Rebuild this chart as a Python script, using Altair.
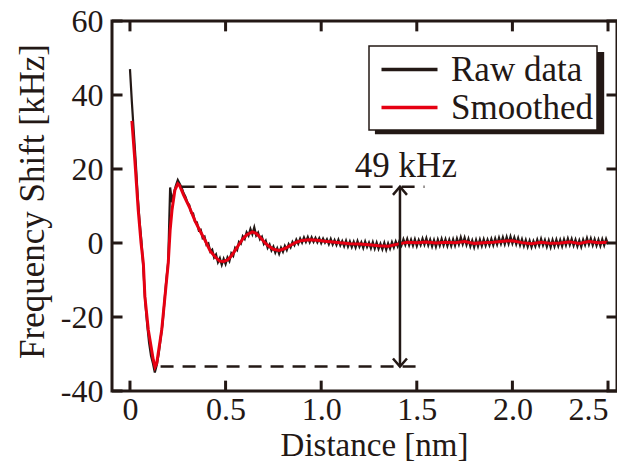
import altair as alt
import numpy as np
import pandas as pd

# ---------------- data ----------------
# Raw data: one value every 0.01 nm from 0.00 to 2.50 nm
raw_y = [
    47, 38, 30, 22, 13, 6, 0.5, -7, -16, -22,
    -27, -30.5, -32.5, -35, -33, -30, -26, -22, -16, -10,
    -5, 15, 11, 13.5, 15.5, 17, 16, 15, 13.5, 12.5,
    11, 10.3, 8.2, 8, 5.8, 5.6, 3.4, 3.6, 1.3, 1.7,
    -0.5, -0.1, -2.3, -1.8, -3.9, -3.1, -5.2, -4.1, -5.9, -4.3,
    -5.7, -3.9, -4.9, -2.8, -3.5, -1.3, -1.9, 0.3, -0.2, 1.8,
    1.1, 2.9, 2.0, 3.8, 2.4, 4.2, 2.0, 2.8, 1.0, 1.7,
    -0.2, 0.6, -1.3, -0.4, -2.0, -1.0, -2.6, -1.4, -2.9, -1.3,
    -2.4, -0.8, -1.9, -0.3, -1.2, 0.3, -0.6, 0.9, -0.2, 1.2,
    0.1, 1.5, 0.3, 1.6, 0.2, 1.5, 0.3, 1.4, 0.2, 1.3,
    0.0, 1.2, 0.1, 1.0, -0.3, 1.1, -0.4, 0.8, -0.5, 0.9,
    -0.6, 0.5, -0.9, 0.6, -1.0, 0.4, -1.1, 0.3, -1.2, 0.5,
    -1.0, 0.2, -1.3, 0.4, -1.1, 0.1, -1.4, 0.2, -1.5, 0.1,
    -1.6, -0.2, -1.7, 0.0, -1.8, -0.1, -1.5, 0.2, -1.2, 0.4,
    -0.9, 0.7, -0.6, 1.0, -0.5, 1.1, -0.6, 0.9, -0.7, 1.0,
    -0.8, 0.8, -0.5, 1.2, -0.4, 1.3, -0.6, 0.9, -0.9, 0.8,
    -1.0, 0.9, -0.7, 1.1, -0.6, 1.0, -0.8, 0.9, -0.8, 1.0,
    -0.7, 1.2, -0.4, 1.5, -0.3, 1.4, -0.5, 1.1, -0.9, 0.7,
    -1.1, 0.8, -0.9, 0.9, -0.8, 1.0, -0.7, 0.9, -0.6, 1.1,
    -0.6, 1.2, -0.4, 1.4, -0.2, 1.5, -0.3, 1.6, -0.2, 1.7,
    -0.1, 1.5, -0.3, 1.3, -0.6, 1.0, -0.8, 0.8, -1.0, 0.6,
    -1.1, 0.5, -0.9, 0.9, -0.7, 1.1, -0.6, 0.8, -1.0, 0.7,
    -1.1, 0.8, -0.9, 0.9, -0.8, 0.8, -0.9, 1.0, -0.6, 1.2,
    -0.5, 1.1, -0.7, 0.9, -0.9, 0.7, -1.0, 0.9, -0.5, 1.3,
    -0.4, 1.2, -0.6, 1.0, -0.7, 0.9, -0.8, 1.0, -0.6, 1.1,
    -0.3,
]
raw_x = np.round(np.arange(len(raw_y)) * 0.01, 2)

# Smoothed curve
sm_x = [0.01, 0.026, 0.043, 0.058, 0.07, 0.078, 0.096, 0.122, 0.131, 0.14,
        0.166, 0.183, 0.20, 0.21, 0.22, 0.235, 0.25, 0.26, 0.28, 0.31,
        0.34, 0.366, 0.39, 0.42, 0.45, 0.47, 0.49, 0.51, 0.53, 0.55,
        0.57, 0.59, 0.61, 0.64, 0.66, 0.68, 0.70, 0.72, 0.75, 0.78,
        0.81, 0.84, 0.87, 0.90, 0.94, 0.98, 1.02, 1.06, 1.10, 1.15,
        1.20, 1.25, 1.30, 1.35, 1.40, 1.45, 1.50, 1.55, 1.60, 1.65,
        1.70, 1.75, 1.80, 1.85, 1.90, 1.95, 2.00, 2.05, 2.10, 2.15,
        2.20, 2.25, 2.30, 2.35, 2.40, 2.45, 2.50]
sm_y = [33, 22, 9, 0, -5.5, -14.5, -23.5, -31.6, -33.5, -32.5,
        -23.5, -14.5, -5.5, 3.5, 9, 14.3, 16, 15.5, 13, 9.8,
        6, 3.3, 1, -2.2, -4, -4.9, -5, -4.6, -3.5, -2,
        -0.4, 1.1, 2.2, 3, 2.6, 1.6, 0.4, -0.6, -1.7, -2.0,
        -1.5, -0.6, 0.2, 0.7, 0.9, 0.75, 0.5, 0.3, 0.05, -0.2,
        -0.3, -0.45, -0.75, -0.85, -0.3, 0.2, 0.1, 0.3, 0.0, 0.2,
        0.1, 0.4, -0.1, 0.1, 0.2, 0.5, 0.6, 0.1, -0.2, 0.2,
        -0.1, 0.0, 0.3, -0.1, 0.4, 0.1, 0.2]

series_names = ["Raw data", "Smoothed"]
series_colors = ["#231815", "#e60012"]

x_ticks = [0, 0.5, 1.0, 1.5, 2.0, 2.5]
y_ticks = [-40, -20, 0, 20, 40, 60]
x_domain = [-0.094, 2.547]
y_domain = [-40, 60]

# annotation values
upper_level = 15.2
lower_level = -33.4
dash_starts = [0.27, 0.16]
dash_end = 1.54
arrow_x = 1.412
label_text = "49 kHz"
label_x = 1.443
label_y = 17.8
shadow_box = [1.281, 2.48, 51.6, 29.4]  # x1, x2, y1, y2 (data units)

# ---------------- chart ----------------
INK = "#231815"
FONT = "Liberation Serif"

raw_df = pd.DataFrame({"x": raw_x, "y": raw_y, "series": series_names[0]})
sm_df = pd.DataFrame({"x": sm_x, "y": sm_y, "series": series_names[1]})

xs = alt.Scale(domain=x_domain, nice=False, zero=False)
ys = alt.Scale(domain=y_domain, nice=False, zero=False)

color = alt.Color(
    "series:N",
    scale=alt.Scale(domain=series_names, range=series_colors),
    legend=alt.Legend(title=None, orient="none", legendX=257, legendY=25, zindex=1),
)

xaxis = alt.Axis(
    values=x_ticks, title="Distance [nm]",
    labelExpr="datum.value == 0 ? '0' : format(datum.value, '.1f')",
    grid=False, ticks=False, tickSize=0, domain=False, labelPadding=3,
    labelFlush=12, titleX=262, titleY=64, titleBaseline="alphabetic",
    titleFontSize=33,
)
yaxis = alt.Axis(
    values=y_ticks, title="Frequency Shift [kHz]",
    labelExpr="'' + datum.value",
    grid=False, ticks=False, tickSize=0, domain=False, labelPadding=9,
    labelFlush=False, titleX=-69, titleY=180, titleAngle=270,
    titleBaseline="alphabetic",
)

raw_line = alt.Chart(raw_df).mark_line(strokeWidth=2.2).encode(
    x=alt.X("x:Q", scale=xs, axis=xaxis),
    y=alt.Y("y:Q", scale=ys, axis=yaxis),
    color=color,
)
sm_line = alt.Chart(sm_df).mark_line(strokeWidth=3).encode(
    x=alt.X("x:Q", scale=xs),
    y=alt.Y("y:Q", scale=ys),
    color=color,
)

shadow = alt.Chart(pd.DataFrame({"a": [0]})).mark_rect(color=INK).encode(
    x=alt.X(datum=shadow_box[0], scale=xs),
    x2=alt.X2(datum=shadow_box[1]),
    y=alt.Y(datum=shadow_box[2], scale=ys),
    y2=alt.Y2(datum=shadow_box[3]),
)

dash_df = pd.DataFrame({"x": dash_starts, "x2": [dash_end, dash_end],
                        "y": [upper_level, lower_level]})
dashes = alt.Chart(dash_df).mark_rule(
    color=INK, strokeWidth=2.5, strokeDash=[13, 9]
).encode(
    x=alt.X("x:Q", scale=xs), x2="x2:Q",
    y=alt.Y("y:Q", scale=ys),
)

arrow_df = pd.DataFrame({"x": [arrow_x], "y": [upper_level], "y2": [lower_level]})
arrow = alt.Chart(arrow_df).mark_rule(color=INK, strokeWidth=2.5).encode(
    x=alt.X("x:Q", scale=xs),
    y=alt.Y("y:Q", scale=ys), y2="y2:Q",
)
head_up = alt.Chart(pd.DataFrame({"x": [arrow_x], "y": [upper_level]})).mark_point(
    shape="M-1,1.15L0,0L1,1.15", filled=False, size=196, stroke=INK,
    strokeWidth=2.5, opacity=1,
).encode(x=alt.X("x:Q", scale=xs), y=alt.Y("y:Q", scale=ys))
head_down = alt.Chart(pd.DataFrame({"x": [arrow_x], "y": [lower_level]})).mark_point(
    shape="M-1,-1.15L0,0L1,-1.15", filled=False, size=196, stroke=INK,
    strokeWidth=2.5, opacity=1,
).encode(x=alt.X("x:Q", scale=xs), y=alt.Y("y:Q", scale=ys))

label = alt.Chart(pd.DataFrame({"x": [label_x], "y": [label_y], "t": [label_text]})).mark_text(
    font=FONT, fontSize=35, color=INK, align="center", baseline="alphabetic"
).encode(x=alt.X("x:Q", scale=xs), y=alt.Y("y:Q", scale=ys), text="t:N")

# inward ticks on all four sides
TY = 2.8    # tick length in y units (~10 px)
TX = 0.055  # tick length in x units (~10 px)
xt_df = pd.DataFrame({"x": x_ticks})
yt_df = pd.DataFrame({"y": y_ticks})
tick_style = dict(color=INK, strokeWidth=3)
ticks_bottom = alt.Chart(xt_df).mark_rule(**tick_style).encode(
    x=alt.X("x:Q", scale=xs),
    y=alt.Y(datum=y_domain[0], scale=ys), y2=alt.Y2(datum=y_domain[0] + TY))
ticks_top = alt.Chart(xt_df).mark_rule(**tick_style).encode(
    x=alt.X("x:Q", scale=xs),
    y=alt.Y(datum=y_domain[1], scale=ys), y2=alt.Y2(datum=y_domain[1] - TY))
ticks_left = alt.Chart(yt_df).mark_rule(**tick_style).encode(
    y=alt.Y("y:Q", scale=ys),
    x=alt.X(datum=x_domain[0], scale=xs), x2=alt.X2(datum=x_domain[0] + TX))
ticks_right = alt.Chart(yt_df).mark_rule(**tick_style).encode(
    y=alt.Y("y:Q", scale=ys),
    x=alt.X(datum=x_domain[1], scale=xs), x2=alt.X2(datum=x_domain[1] - TX))

chart = alt.layer(
    raw_line, sm_line, shadow, dashes, arrow, head_up, head_down, label,
    ticks_bottom, ticks_top, ticks_left, ticks_right,
).properties(
    width=505, height=370,
    autosize=alt.AutoSizeParams(type="none"),
    padding={"left": 104, "top": 13, "right": 0, "bottom": 71},
).configure_view(
    stroke=INK, strokeWidth=3,
).configure_axis(
    labelFont=FONT, labelFontSize=32, labelColor=INK,
    titleFont=FONT, titleFontSize=35, titleColor=INK, titleFontWeight="normal",
).configure_legend(
    symbolType="M-1.6,0L1.6,0", symbolSize=1225, symbolStrokeWidth=3.5,
    symbolOffset=17, symbolFillColor="transparent",
    labelFont=FONT, labelFontSize=35, labelColor=INK, labelOffset=22,
    rowPadding=0, padding=4, strokeColor=INK, fillColor="white",
    strokeWidth=1.5, labelLimit=400,
)

chart.save("out.html", embed_options={"renderer": "svg", "actions": False})
